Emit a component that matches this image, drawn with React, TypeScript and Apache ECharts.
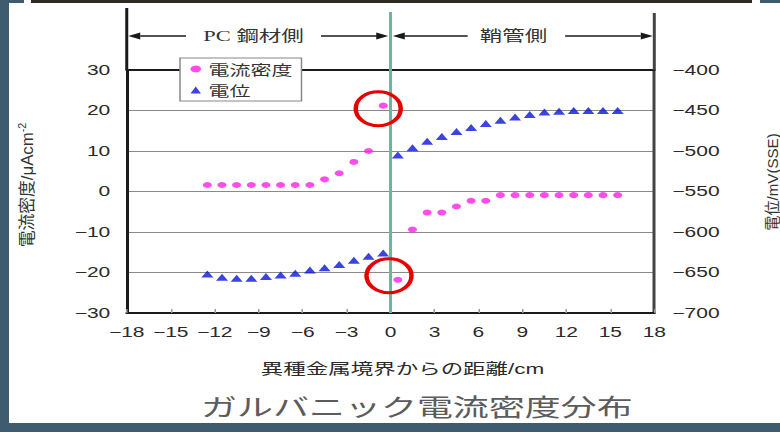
import React, { useEffect, useRef } from 'react';
import * as echarts from 'echarts';

// distance from the dissimilar-metal boundary (cm)
const distanceCm = [-12.5, -11.5, -10.5, -9.5, -8.5, -7.5, -6.5, -5.5, -4.5, -3.5, -2.5, -1.5, -0.5, 0.5, 1.5, 2.5, 3.5, 4.5, 5.5, 6.5, 7.5, 8.5, 9.5, 10.5, 11.5, 12.5, 13.5, 14.5, 15.5];
// galvanic current density (μA/cm²), left axis
const currentDensity = [1.6, 1.6, 1.6, 1.6, 1.6, 1.6, 1.6, 1.6, 3.0, 4.5, 7.3, 10.0, 21.2, -21.8, -9.4, -5.2, -5.2, -3.7, -2.3, -2.3, -0.9, -0.9, -0.9, -0.9, -0.9, -0.9, -0.9, -0.9, -0.9];
// potential (mV vs SSE), right axis
const potential = [-652, -656, -657, -657, -655, -653, -651, -647, -644, -640, -635, -630, -626, -505, -496, -488, -482, -476, -471, -466, -462, -458, -455, -452, -451, -450, -450, -450, -450];

const xRange = [-18, 18, 3];
const leftRange = [-30, 30, 10];
const rightRange = [-700, -400, 50];
const seriesNames = ['電流密度', '電位'];
const regionLabels = ['PC 鋼材側', '鞘管側'];
const circledPoints = [12, 13];
const titleText = 'ガルバニック電流密度分布';
const xName = '異種金属境界からの距離/cm';
const leftName = '電流密度/μAcm';
const rightName = '電位/mV(SSE)';

const S = 1.5; // horizontal stretch of the reference photo
const W = 780 / S;
const H = 432;

const minus = (v: number) => (v < 0 ? '\u2212' + Math.abs(v) : String(v));

export default function App() {
  const ref = useRef<HTMLDivElement>(null);
  useEffect(() => {
    const chart = echarts.init(ref.current!, null, { renderer: 'svg', width: W, height: H });
    const labelColor = '#2a2a2a';
    chart.setOption({
      animation: false,
      textStyle: { fontFamily: "'Liberation Sans', 'Noto Sans CJK JP', sans-serif" },
      title: {
        text: titleText,
        left: 134,
        top: 394,
        padding: 0,
        textStyle: { fontSize: 24, fontWeight: 'normal', color: '#5c5c5c', fontFamily: "'Noto Sans CJK JP'" },
      },
      legend: {
        orient: 'vertical',
        left: 120,
        top: 58,
        padding: [1, 6, 1, 7],
        itemGap: 1,
        itemWidth: 7,
        itemHeight: 7,
        backgroundColor: '#fff',
        borderColor: '#888',
        borderWidth: 1,
        textStyle: { fontSize: 14, lineHeight: 20, color: '#333', fontFamily: "'Noto Sans CJK JP'" },
        data: [
          { name: seriesNames[0], icon: 'circle' },
          { name: seriesNames[1], icon: 'triangle' },
        ],
      },
      grid: { left: 84.5, right: W - 436.2, top: 70, bottom: 119 },
      xAxis: [
        {
          type: 'value', min: xRange[0], max: xRange[1], interval: xRange[2], position: 'bottom',
          axisLine: { onZero: false, lineStyle: { color: '#1a1a1a', width: 2 } },
          axisTick: { inside: true, length: 4, lineStyle: { color: '#999' } },
          axisLabel: { formatter: minus, fontSize: 14, color: labelColor, margin: 12 },
          splitLine: { show: false },
          name: xName, nameLocation: 'middle', nameGap: 48,
          nameTextStyle: { fontSize: 15, color: labelColor, padding: [0, 0, 0, 16] },
        },
        {
          type: 'value', min: xRange[0], max: xRange[1], interval: xRange[2], position: 'top',
          axisLine: { onZero: false, lineStyle: { color: '#1a1a1a', width: 2 } },
          axisTick: { show: false }, axisLabel: { show: false }, splitLine: { show: false },
        },
      ],
      yAxis: [
        {
          type: 'value', min: leftRange[0], max: leftRange[1], interval: leftRange[2], position: 'left',
          axisLine: { show: true, onZero: false, lineStyle: { color: '#1a1a1a', width: 2 } },
          axisTick: { show: false },
          axisLabel: { formatter: minus, fontSize: 14, color: labelColor, margin: 11 },
          splitLine: { show: true, showMinLine: false, showMaxLine: false, lineStyle: { color: '#8a8a8a', width: 1 } },
        },
        {
          type: 'value', min: rightRange[0], max: rightRange[1], interval: rightRange[2], position: 'right',
          axisLine: { show: true, onZero: false, lineStyle: { color: '#444', width: 2 } },
          axisTick: { show: false },
          axisLabel: { formatter: minus, fontSize: 14, color: labelColor, margin: 12 },
          splitLine: { show: false },
        },
      ],
      series: [
        {
          name: seriesNames[0], type: 'scatter', xAxisIndex: 0, yAxisIndex: 0,
          symbol: 'circle', symbolSize: 6, itemStyle: { color: '#ff1fe6' },
          data: distanceCm.map((x, i) => [x, currentDensity[i]]), z: 3,
        },
        {
          name: seriesNames[1], type: 'scatter', xAxisIndex: 0, yAxisIndex: 1,
          symbol: 'triangle', symbolSize: [8, 7], itemStyle: { color: '#0a14d8' },
          data: distanceCm.map((x, i) => [x, potential[i]]), z: 3,
        },
      ],
    });

    const px = (x: number) => chart.convertToPixel({ xAxisIndex: 0 }, x) as number;
    const py = (y: number) => chart.convertToPixel({ yAxisIndex: 0 }, y) as number;
    const pt = (i: number) => chart.convertToPixel({ seriesIndex: 0 }, [distanceCm[i], currentDensity[i]]) as number[];
    const xl = px(xRange[0]);
    const x0 = px(0);
    const xr = px(xRange[1]);
    const yTop = py(leftRange[1]);
    const yBot = py(leftRange[0]);
    const ay = 36;
    const ink = '#1a1a1a';
    const annFont = "15px 'Liberation Serif', 'Noto Sans CJK JP', serif";
    const line = (x1: number, x2: number) => ({ type: 'line', shape: { x1, y1: ay, x2, y2: ay }, style: { stroke: ink, lineWidth: 1.3 }, z: 5 });
    const head = (tip: number, dir: number) => ({
      type: 'polygon', shape: { points: [[tip, ay], [tip + dir * 8, ay - 3.5], [tip + dir * 8, ay + 3.5]] }, style: { fill: ink }, z: 5,
    });
    const txt = (x: number, y: number, text: string, font: string) => ({
      type: 'text', x, y, z: 5,
      style: { text, font, fill: '#333', align: 'center', verticalAlign: 'middle', textAlign: 'center', textVerticalAlign: 'middle' },
    });
    const lc = (xl + x0) / 2 - 3.4;
    const rc = (x0 + xr) / 2 - 6;
    const p1 = pt(circledPoints[0]);
    const p2 = pt(circledPoints[1]);
    const ring = (cx: number, cy: number) => ({
      type: 'ellipse', shape: { cx, cy, rx: 15, ry: 17 }, style: { fill: 'none', stroke: '#e60000', lineWidth: 3 }, z: 10,
    });
    chart.setOption({
      graphic: [
        { type: 'line', shape: { x1: xl, y1: 8, x2: xl, y2: yTop }, style: { stroke: ink, lineWidth: 2 }, z: 1 },
        { type: 'line', shape: { x1: xr, y1: 13, x2: xr, y2: yTop }, style: { stroke: '#444', lineWidth: 2 }, z: 1 },
        { type: 'line', shape: { x1: x0, y1: 12, x2: x0, y2: yBot }, style: { stroke: '#72b39b', lineWidth: 2 }, z: 1 },
        head(xl + 1, 1), line(xl + 9, lc - 45),
        txt(lc, ay, regionLabels[0], annFont),
        line(lc + 45, x0 - 9), head(x0 - 1.5, -1),
        head(x0 + 1.5, 1), line(x0 + 9, rc - 30.5),
        txt(rc, ay, regionLabels[1], annFont),
        line(rc + 34.5, xr - 9), head(xr - 1, -1),
        {
          type: 'text', x: 18, y: 185, rotation: Math.PI / 2, scaleX: 1.2, scaleY: 0.82, z: 5,
          style: {
            text: '{a|' + leftName + '}{b|-2}',
            align: 'center', verticalAlign: 'middle', textAlign: 'center', textVerticalAlign: 'middle',
            fill: '#333',
            rich: {
              a: { fontSize: 14, lineHeight: 18, fill: '#333', fontFamily: "'Liberation Sans', 'Noto Sans CJK JP'" },
              b: { fontSize: 9, lineHeight: 18, verticalAlign: 'top', fill: '#333', fontFamily: "'Liberation Sans'" },
            },
          },
        },
        {
          type: 'text', x: 514.7, y: 182, rotation: Math.PI / 2, scaleX: 1.08, scaleY: 0.74, z: 5,
          style: {
            text: rightName, font: "14px 'Liberation Sans', 'Noto Sans CJK JP'", fill: '#333',
            align: 'center', verticalAlign: 'middle', textAlign: 'center', textVerticalAlign: 'middle',
          },
        },
        ring(p1[0] - 3.3, p1[1] + 3),
        ring(p2[0] - 5.9, p2[1] - 4),
      ],
    });
    return () => chart.dispose();
  }, []);

  return (
    <div style={{ position: 'fixed', left: 0, top: 0, width: 780, height: 432, background: '#3f5b70', overflow: 'hidden' }}>
      <div style={{ position: 'absolute', left: 9, top: 0, width: 771, height: 423, background: '#fff' }} />
      <div style={{ position: 'absolute', left: 0, top: 0, width: 24, height: 3, background: '#3f5b70' }} />
      <div style={{ position: 'absolute', left: 31, top: 0, width: 721, height: 3, background: '#2f2a24' }} />
      <div style={{ position: 'absolute', left: 760, top: 0, width: 20, height: 3, background: '#3f5b70' }} />
      <div
        ref={ref}
        style={{ position: 'absolute', left: 0, top: 0, width: W, height: H, transform: `scaleX(${S})`, transformOrigin: '0 0' }}
      />
    </div>
  );
}
